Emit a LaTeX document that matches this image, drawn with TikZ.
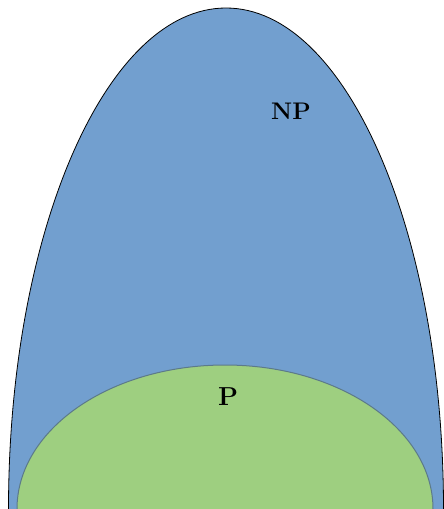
\documentclass[tikz,border=0pt]{standalone}
\usepackage{tikz}
\definecolor{NPBlue}{RGB}{114,159,207}
\definecolor{PGreen}{RGB}{158,207,128}
\definecolor{PEdge}{RGB}{92,122,138}

\begin{document}
\begin{tikzpicture}[
  x=1pt,y=-1pt,
  npset/.style={draw=black,line width=0.8pt,fill=NPBlue},
  pset/.style={draw=PEdge,line width=1pt,fill=PGreen},
  setlabel/.style={font=\bfseries\fontsize{24}{28}\selectfont,inner sep=0pt}]
\useasboundingbox (0,0) rectangle (444,509);
\clip (0,0) rectangle (444,509);
\draw[npset] (226,509) ellipse [x radius=217.5,y radius=501];
\draw[pset] (225,509) ellipse [x radius=208,y radius=144];
\node[setlabel] (np) at (291,111) {NP};
\node[setlabel,font=\bfseries\fontsize{26}{30}\selectfont] (p) at (228,397) {P};
\end{tikzpicture}
\end{document}
